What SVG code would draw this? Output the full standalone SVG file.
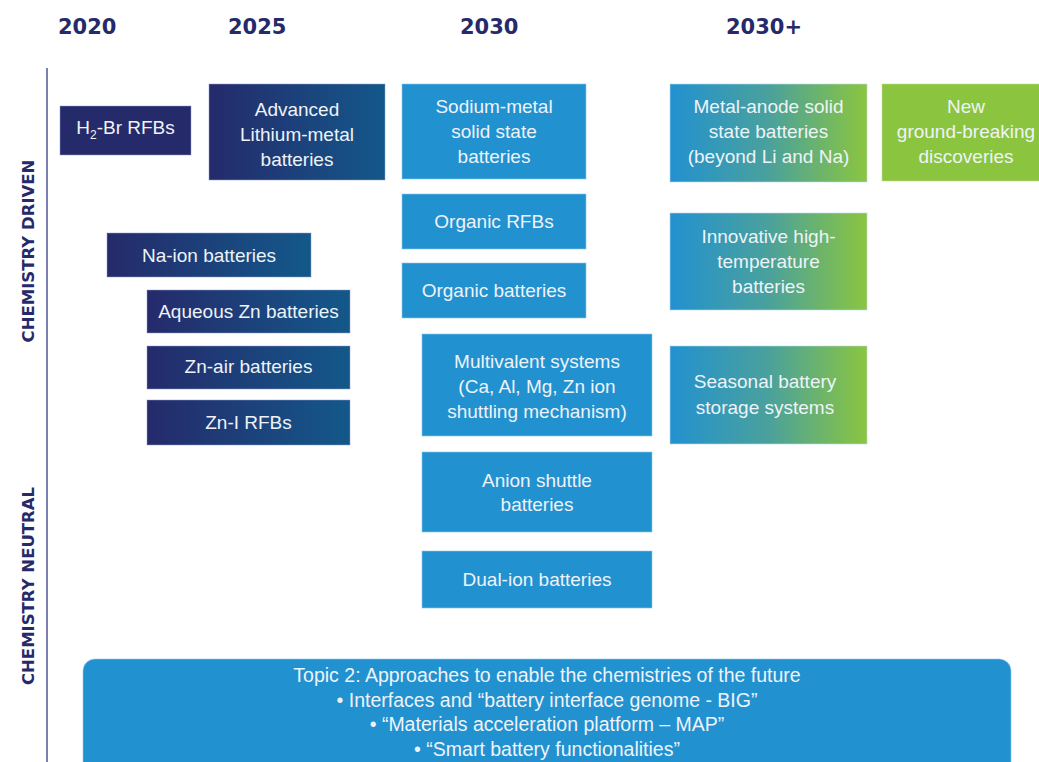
<svg xmlns="http://www.w3.org/2000/svg" width="1039" height="762" viewBox="0 0 1039 762">
<defs>
<linearGradient id="gNavy" x1="0" y1="0" x2="1" y2="0"><stop offset="0" stop-color="#252a6b"/><stop offset="1" stop-color="#13588a"/></linearGradient>
<linearGradient id="gBG" x1="0" y1="0" x2="1" y2="0"><stop offset="0" stop-color="#2291d0"/><stop offset="0.5" stop-color="#4aa19c"/><stop offset="1" stop-color="#8bc53f"/></linearGradient>
<style>
.yr{font-family:"DejaVu Sans",sans-serif;font-weight:bold;font-size:21px;fill:#262a6a}
.side{font-family:"DejaVu Sans",sans-serif;font-weight:bold;font-size:16.5px;fill:#262a6a;text-anchor:middle}
.t{font-family:"Liberation Sans",Arial,sans-serif;font-size:19px;fill:#eef3f8;text-anchor:middle}
.tp{font-family:"Liberation Sans",Arial,sans-serif;font-size:19.5px;fill:#eef3f8;text-anchor:middle}
.navy{fill:#252a6b;stroke:#8fa0d0;stroke-opacity:0.5;stroke-width:1}
.ng{fill:url(#gNavy);stroke:#8fa0d0;stroke-opacity:0.5;stroke-width:1}
.blue{fill:#2291d0;stroke:#8cc8ee;stroke-opacity:0.6;stroke-width:1}
.bg{fill:url(#gBG);stroke:#b8dcef;stroke-opacity:0.6;stroke-width:1}
.green{fill:#8bc53f;stroke:#c0e090;stroke-opacity:0.6;stroke-width:1}
</style>
</defs>
<rect width="1039" height="762" fill="#ffffff"/>
<g id="years">
<text class="yr" x="58" y="34">2020</text>
<text class="yr" x="228" y="34">2025</text>
<text class="yr" x="460" y="34">2030</text>
<text class="yr" x="726" y="34">2030+</text>
</g>
<g id="axis">
<line x1="47" y1="68" x2="47" y2="762" stroke="#7c80ae" stroke-width="2"/>
<text class="side" transform="translate(33.5,251) rotate(-90)">CHEMISTRY DRIVEN</text>
<text class="side" transform="translate(33.5,586) rotate(-90)">CHEMISTRY NEUTRAL</text>
</g>
<g id="connectors"></g>
<g id="n-h2br"><rect class="navy" x="60" y="106" width="131" height="49"/><text class="t" x="125.5" y="134">H<tspan font-size="12" dy="5">2</tspan><tspan dy="-5">-Br RFBs</tspan></text></g>
<g id="n-limetal"><rect class="ng" x="209" y="84" width="176" height="96"/><text class="t" x="297" y="116">Advanced</text><text class="t" x="297" y="141">Lithium-metal</text><text class="t" x="297" y="166">batteries</text></g>
<g id="n-nametal"><rect class="blue" x="402" y="84" width="184" height="95"/><text class="t" x="494" y="113">Sodium-metal</text><text class="t" x="494" y="138">solid state</text><text class="t" x="494" y="163">batteries</text></g>
<g id="n-metalanode"><rect class="bg" x="670" y="84" width="197" height="98"/><text class="t" x="768.5" y="113">Metal-anode solid</text><text class="t" x="768.5" y="138">state batteries</text><text class="t" x="768.5" y="163">(beyond Li and Na)</text></g>
<g id="n-new"><rect class="green" x="882" y="84" width="160" height="97"/><text class="t" x="966" y="113">New</text><text class="t" x="966" y="138">ground-breaking</text><text class="t" x="966" y="163">discoveries</text></g>
<g id="n-orgrfb"><rect class="blue" x="402" y="194" width="184" height="55"/><text class="t" x="494" y="228">Organic RFBs</text></g>
<g id="n-orgbat"><rect class="blue" x="402" y="263" width="184" height="55"/><text class="t" x="494" y="297">Organic batteries</text></g>
<g id="n-hightemp"><rect class="bg" x="670" y="213" width="197" height="97"/><text class="t" x="768.5" y="243">Innovative high-</text><text class="t" x="768.5" y="268">temperature</text><text class="t" x="768.5" y="293">batteries</text></g>
<g id="n-naion"><rect class="ng" x="107" y="233" width="204" height="44"/><text class="t" x="209" y="262">Na-ion batteries</text></g>
<g id="n-aqzn"><rect class="ng" x="147" y="290" width="203" height="43"/><text class="t" x="248.5" y="318">Aqueous Zn batteries</text></g>
<g id="n-znair"><rect class="ng" x="147" y="346" width="203" height="43"/><text class="t" x="248.5" y="373">Zn-air batteries</text></g>
<g id="n-zni"><rect class="ng" x="147" y="400" width="203" height="45"/><text class="t" x="248.5" y="429">Zn-I RFBs</text></g>
<g id="n-multi"><rect class="blue" x="422" y="334" width="230" height="102"/><text class="t" x="537" y="368">Multivalent systems</text><text class="t" x="537" y="393">(Ca, Al, Mg, Zn ion</text><text class="t" x="537" y="418">shuttling mechanism)</text></g>
<g id="n-seasonal"><rect class="bg" x="670" y="346" width="197" height="98"/><text class="t" x="765" y="388">Seasonal battery</text><text class="t" x="765" y="414">storage systems</text></g>
<g id="n-anion"><rect class="blue" x="422" y="452" width="230" height="80"/><text class="t" x="537" y="487">Anion shuttle</text><text class="t" x="537" y="511">batteries</text></g>
<g id="n-dualion"><rect class="blue" x="422" y="551" width="230" height="57"/><text class="t" x="537" y="586">Dual-ion batteries</text></g>
<g id="n-topic2"><rect class="blue" x="83" y="659" width="928" height="120" rx="12"/>
<text class="tp" x="547" y="682">Topic 2: Approaches to enable the chemistries of the future</text>
<text class="tp" x="547" y="707">• Interfaces and “battery interface genome - BIG”</text>
<text class="tp" x="547" y="731">• “Materials acceleration platform – MAP”</text>
<text class="tp" x="547" y="756">• “Smart battery functionalities”</text>
</g>
</svg>
